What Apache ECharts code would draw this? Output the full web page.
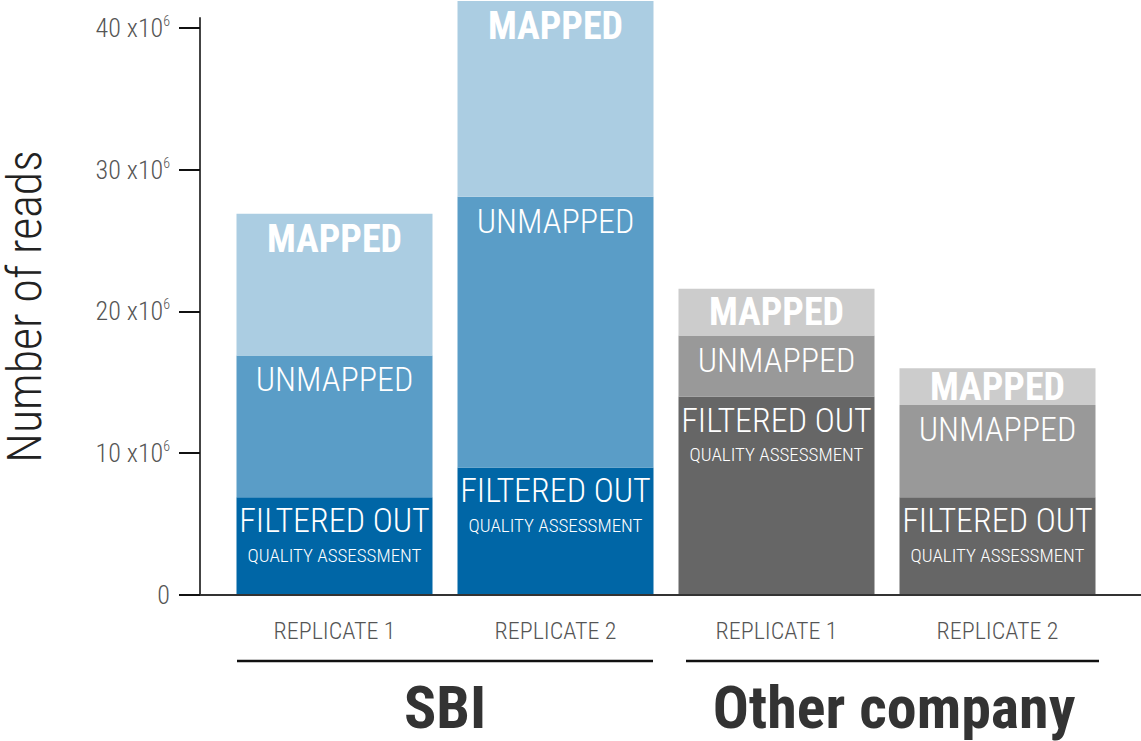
<!DOCTYPE html>
<html>
<head>
<meta charset="utf-8">
<script src="https://cdn.jsdelivr.net/npm/echarts@6/dist/echarts.min.js"></script>
<style>
html,body{margin:0;padding:0;background:#fff;}
#chart{width:1141px;height:741px;}
</style>
</head>
<body>
<div id="chart"></div>
<script>
// ---- data ----
const categories = ['REPLICATE 1', 'REPLICATE 2', 'REPLICATE 1', 'REPLICATE 2'];
const groups = ['SBI', 'Other company'];
const filteredOut = [6.9, 9.0, 14.0, 6.9];   // x10^6 reads
const unmapped = [10.0, 19.1, 4.3, 6.5];
const mapped = [10.0, 13.8, 3.3, 2.6];
const yTicks = [0, 10, 20, 30, 40];
const yMax = 40.7;

// ---- styles ----
const FONT = "'Roboto Condensed', 'Noto Sans Condensed', 'DejaVu Sans Condensed', 'Liberation Sans Narrow', sans-serif";
const palette = {
  filtered: ['#0066a6', '#0066a6', '#666666', '#666666'],
  unmapped: ['#5a9dc7', '#5a9dc7', '#999999', '#999999'],
  mapped:   ['#abcde2', '#abcde2', '#cccccc', '#cccccc']
};

function build(values, colors, smallLimit) {
  return values.map((v, i) => {
    const item = { value: v, itemStyle: { color: colors[i] } };
    if (smallLimit && v < smallLimit) item.label = { position: 'inside' };
    return item;
  });
}

const chart = echarts.init(document.getElementById('chart'), null, { renderer: 'svg' });

const labelBase = {
  show: true,
  position: 'insideTop',
  color: '#ffffff',
  fontFamily: FONT
};

const option = {
  animation: false,
  backgroundColor: '#ffffff',
  grid: [
    { left: 224, right: 33, top: 18, bottom: 146, outerBoundsMode: 'none' },
    { left: 200, right: 0, top: 18, bottom: 146, outerBoundsMode: 'none' }
  ],
  xAxis: [
    {
      type: 'category', gridIndex: 0, data: categories,
      axisLine: { show: false }, axisTick: { show: false },
      axisLabel: { interval: 0, color: '#555555', fontFamily: FONT, fontWeight: 300, fontSize: 24, margin: 24 }
    },
    {
      type: 'category', gridIndex: 0, position: 'bottom', offset: 74,
      data: groups.map((g, i) => i === 1 ? { value: g, textStyle: { padding: [0, 0, 0, 14] } } : g),
      axisLine: { show: false }, axisTick: { show: false },
      axisLabel: { interval: 0, color: '#333333', fontFamily: FONT, fontSize: 60, fontWeight: 'bold', margin: 8 }
    },
    {
      type: 'value', gridIndex: 1, min: 0, max: 1, z: 10,
      axisLine: { show: true, lineStyle: { color: '#333333', width: 2 } },
      axisTick: { show: false }, axisLabel: { show: false }, splitLine: { show: false }
    }
  ],
  yAxis: [
    { type: 'value', gridIndex: 0, min: 0, max: yMax, show: false },
    {
      type: 'value', gridIndex: 1, min: 0, max: yMax, z: 10,
      name: 'Number of reads', nameLocation: 'middle', nameRotate: 90, nameGap: 156,
      nameTextStyle: { color: '#222222', fontFamily: FONT, fontWeight: 300, fontSize: 48, lineHeight: 40 },
      axisLine: { show: true, lineStyle: { color: '#444444', width: 2 } },
      axisTick: { show: true, length: 21, customValues: yTicks, lineStyle: { color: '#111111', width: 2 } },
      axisLabel: {
        customValues: yTicks, margin: 30, color: '#555555', fontFamily: FONT,
        formatter: v => v === 0 ? '{n|0}' : '{n|' + v + ' x10}{s|6}',
        rich: {
          n: { fontSize: 26, fontWeight: 300, color: '#555555', fontFamily: FONT, lineHeight: 28 },
          s: { fontSize: 14, fontWeight: 300, color: '#555555', fontFamily: FONT, verticalAlign: 'top', lineHeight: 14 }
        }
      },
      splitLine: { show: false }
    }
  ],
  series: [
    {
      name: 'FILTERED OUT', type: 'bar', stack: 'reads', xAxisIndex: 0, yAxisIndex: 0,
      barWidth: 196, clip: false, data: build(filteredOut, palette.filtered),
      label: Object.assign({}, labelBase, {
        distance: 3,
        formatter: '{a|FILTERED OUT}\n{b|QUALITY ASSESSMENT}',
        rich: {
          a: { fontSize: 34, fontWeight: 300, lineHeight: 40, color: '#fff', fontFamily: FONT },
          b: { fontSize: 19, fontWeight: 300, lineHeight: 30, color: '#fff', fontFamily: FONT }
        }
      })
    },
    {
      name: 'UNMAPPED', type: 'bar', stack: 'reads', xAxisIndex: 0, yAxisIndex: 0,
      barWidth: 196, clip: false, data: build(unmapped, palette.unmapped),
      label: Object.assign({}, labelBase, { formatter: 'UNMAPPED', fontSize: 34, fontWeight: 300, distance: 7 })
    },
    {
      name: 'MAPPED', type: 'bar', stack: 'reads', xAxisIndex: 0, yAxisIndex: 0,
      barWidth: 196, clip: false, data: build(mapped, palette.mapped, 4),
      label: Object.assign({}, labelBase, { formatter: 'MAPPED', fontSize: 38, fontWeight: 'bold', distance: 6 })
    }
  ],
  graphic: [
    { type: 'line', shape: { x1: 237, y1: 661, x2: 653, y2: 661 }, style: { stroke: '#111111', lineWidth: 2.5 } },
    { type: 'line', shape: { x1: 686, y1: 661, x2: 1099, y2: 661 }, style: { stroke: '#111111', lineWidth: 2.5 } }
  ]
};

chart.setOption(option);
</script>
</body>
</html>
